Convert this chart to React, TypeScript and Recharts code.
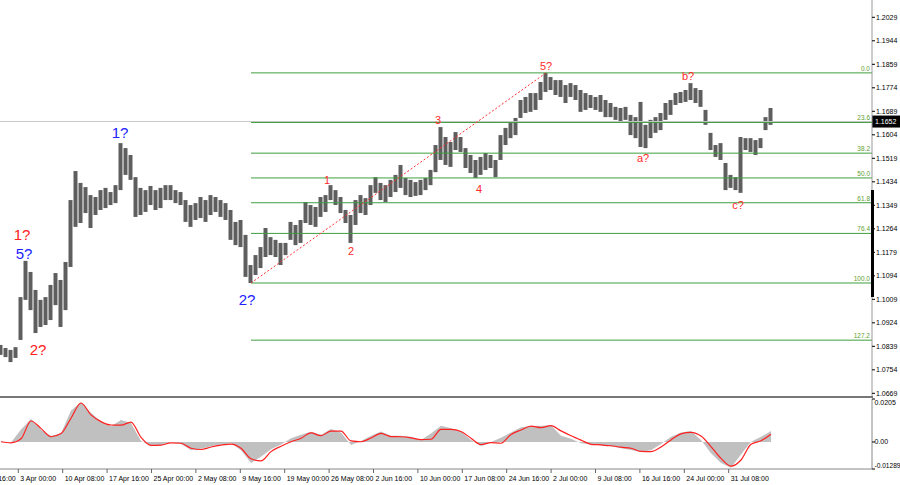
import { Area, Bar, ComposedChart, Line, ReferenceDot, ReferenceLine, XAxis, YAxis } from "recharts"

// EURUSD H4, one bar sampled every ~5 px of the original chart
const highs = [
  1.0844, 1.0833, 1.0826, 1.0836, 1.1017, 1.1148, 1.1108, 1.1043, 1.1007, 1.1017,
  1.1061, 1.1104, 1.1079, 1.1144, 1.1368, 1.1473, 1.143, 1.1415, 1.1386, 1.1379,
  1.1404, 1.1412, 1.1397, 1.1422, 1.1574, 1.1556, 1.1531, 1.1451, 1.1412, 1.1404,
  1.1419, 1.1404, 1.1412, 1.1422, 1.1422, 1.1404, 1.1397, 1.1368, 1.135, 1.1357,
  1.1379, 1.1368, 1.1386, 1.1379, 1.1368, 1.1357, 1.1332, 1.1289, 1.1296, 1.1242,
  1.1133, 1.1169, 1.1198, 1.1267, 1.1234, 1.1224, 1.1213, 1.1213, 1.1289, 1.1278,
  1.1296, 1.1361, 1.135, 1.1343, 1.1379, 1.1386, 1.1422, 1.1404, 1.1379, 1.1332,
  1.1314, 1.1368, 1.1386, 1.1375, 1.1422, 1.1451, 1.143, 1.1422, 1.1441, 1.1459,
  1.1495, 1.1448, 1.1441, 1.1433, 1.1441, 1.1448, 1.1477, 1.1567, 1.1632, 1.1596,
  1.1578, 1.1614, 1.1596, 1.1556, 1.1531, 1.1513, 1.1524, 1.1538, 1.1531, 1.1513,
  1.1603, 1.1629, 1.1647, 1.1665, 1.173, 1.1741, 1.1755, 1.1755, 1.1795, 1.1828,
  1.1813, 1.1802, 1.1802, 1.1784, 1.1791, 1.1784, 1.1766, 1.1755, 1.1748, 1.1741,
  1.1748, 1.173, 1.1719, 1.1705, 1.1701, 1.1705, 1.1676, 1.1668, 1.1723, 1.164,
  1.1658, 1.1668, 1.1683, 1.1719, 1.173, 1.1755, 1.1759, 1.1766, 1.1791, 1.1773,
  1.1766, 1.1694, 1.1611, 1.1567, 1.1574, 1.1502, 1.1459, 1.1451, 1.1596, 1.1592,
  1.1592, 1.1585, 1.1592, 1.1668, 1.1701,
]

const lows = [
  1.0808, 1.08, 1.0782, 1.0797, 1.0862, 1.1007, 1.097, 1.0887, 1.0909, 1.0916,
  1.0934, 1.0988, 1.0909, 1.097, 1.1126, 1.1271, 1.1285, 1.1321, 1.1267, 1.1314,
  1.1332, 1.1339, 1.135, 1.1357, 1.1404, 1.1459, 1.1441, 1.1307, 1.1314, 1.1325,
  1.135, 1.1332, 1.1339, 1.1368, 1.1368, 1.1357, 1.135, 1.1289, 1.1271, 1.1296,
  1.1303, 1.1289, 1.1314, 1.1325, 1.1307, 1.1296, 1.1224, 1.1205, 1.1198, 1.109,
  1.1068, 1.1097, 1.1122, 1.1162, 1.1169, 1.1162, 1.1133, 1.1169, 1.1224, 1.1205,
  1.1213, 1.1285, 1.1278, 1.1271, 1.1307, 1.1325, 1.1368, 1.135, 1.1321, 1.1285,
  1.1213, 1.1278, 1.1321, 1.1314, 1.135, 1.1394, 1.1368, 1.1361, 1.1379, 1.1397,
  1.1412, 1.1386, 1.1379, 1.1383, 1.1386, 1.1404, 1.1422, 1.1469, 1.1513, 1.1495,
  1.1488, 1.1549, 1.1542, 1.1484, 1.1466, 1.1448, 1.1459, 1.1477, 1.1484, 1.1451,
  1.1513, 1.1567, 1.1592, 1.1603, 1.1665, 1.1683, 1.1687, 1.1694, 1.173, 1.1759,
  1.1766, 1.1748, 1.1741, 1.1719, 1.1741, 1.173, 1.1687, 1.1694, 1.1701, 1.1694,
  1.1687, 1.1668, 1.1668, 1.1658, 1.165, 1.1658, 1.1603, 1.1592, 1.156, 1.1556,
  1.1592, 1.1611, 1.1621, 1.1658, 1.1676, 1.1712, 1.1719, 1.1723, 1.173, 1.1719,
  1.1705, 1.164, 1.1549, 1.1524, 1.1513, 1.1404, 1.1412, 1.1404, 1.1394, 1.1549,
  1.1542, 1.1531, 1.1556, 1.1621, 1.164,
]

// oscillator, one value every second bar
const oscSignal = [
  0.0001, -0.0004, 0.0015, 0.01, 0.0065, 0.0025, 0.004, 0.0113, 0.0186, 0.0129,
  0.0097, 0.0081, 0.008, 0.0095, 0.0022, -0.0016, -0.0015, -0.0004, -0.0006, -0.003,
  -0.0036, -0.0024, -0.0015, -0.001, -0.003, -0.008, -0.009, -0.0046, -0.002, 0.0001,
  0.0018, 0.0043, 0.003, 0.0052, 0.0052, 0.0005, 0.0001, 0.0019, 0.0041, 0.0026,
  0.0025, 0.002, 0.0011, 0.0013, 0.006, 0.006, 0.005, 0.0018, -0.0012, -0.0003,
  -0.0006, 0.0036, 0.0057, 0.0076, 0.0068, 0.0078, 0.0053, 0.003, 0.0009, -0.0011,
  -0.0014, -0.0018, -0.0025, -0.003, -0.0045, -0.0046, -0.0024, 0.001, 0.0039, 0.0046,
  0.0028, -0.0022, -0.0078, -0.0115, -0.0086, -0.0011, 0.0006, 0.0037,
]

const oscHist = [
  0.0002, -0.0003, 0.006, 0.011, 0.006, 0.0028, 0.0042, 0.015, 0.019, 0.014,
  0.0098, 0.0075, 0.0105, 0.009, 0.0005, -0.0018, -0.0014, 0.0, -0.001, -0.0038,
  -0.0032, -0.002, -0.0012, -0.0006, -0.004, -0.01, -0.007, -0.0035, -0.0012, 0.0018,
  0.0035, 0.0049, 0.0035, 0.0062, 0.0045, -0.0015, 0.0005, 0.003, 0.005, 0.003,
  0.003, 0.0025, 0.001, 0.004, 0.0078, 0.0065, 0.005, 0.001, -0.002, 0.0,
  0.002, 0.0045, 0.007, 0.0076, 0.0078, 0.008, 0.003, 0.0015, -0.0006, -0.0012,
  -0.0016, -0.002, -0.003, -0.0038, -0.0048, -0.004, -0.001, 0.0025, 0.0045, 0.0052,
  0.001, -0.0054, -0.01, -0.0123, -0.006, 0.0001, 0.0025, 0.0052,
]

const priceTicks = [
  1.2029, 1.1944, 1.1859, 1.1774, 1.1689, 1.1604, 1.1519, 1.1434, 1.1349,
  1.1264, 1.1179, 1.1094, 1.1009, 1.0924, 1.0839, 1.0754, 1.0669,
]
const oscTicks = [0.0205, 0, -0.01289]
const oscTickText = ["0.0205", "0.00", "-0.01289"]

const dateLabels = [
  "24 Mar 16:00", "3 Apr 00:00", "10 Apr 08:00", "17 Apr 16:00", "25 Apr 00:00", "2 May 08:00",
  "9 May 16:00", "19 May 00:00", "26 May 08:00", "2 Jun 16:00", "10 Jun 00:00", "17 Jun 08:00",
  "24 Jun 16:00", "2 Jul 00:00", "9 Jul 08:00", "16 Jul 16:00", "24 Jul 00:00", "31 Jul 08:00",
]
// bar position of each date label
const dateTickBars = [
  -5.7, 3.46, 12.34, 21.22, 30.1, 38.98, 47.86, 56.74, 65.62, 74.5, 83.38, 92.26,
  101.14, 110.02, 118.9, 127.78, 136.66, 145.54,
]

const fibRatios = [0, 23.6, 38.2, 50, 61.8, 76.4, 100, 127.2]
const fibLowBar = 50
const fibHighBar = 109
const lastPrice = 1.1652

const waveText = ["1?", "5?", "2?", "1?", "2?", "1", "2", "3", "4", "5?", "a?", "b?", "c?"]
const waveBar = [4.2, 4.6, 7.4, 23.8, 49.2, 65.2, 70, 87.4, 95.6, 109, 128.4, 137.4, 147.4]
const wavePrice = [1.1245, 1.1173, 1.0826, 1.1614, 1.1007, 1.1441, 1.1184, 1.1658, 1.1408, 1.1853, 1.152, 1.1817, 1.135]
const waveDegree = [1, 2, 1, 2, 2, 0, 0, 0, 0, 0, 0, 0, 0]

const X_DOMAIN: [number, number] = [-0.2, 174.2]
const PRICE_DOMAIN: [number, number] = [1.06557, 1.20916]
const OSC_DOMAIN: [number, number] = [-0.01289, 0.0205]
const FONT = "'Liberation Sans', Arial, sans-serif"
const degreeStyle = [
  { fill: "#ff2a2a", size: 11 },
  { fill: "#ff2020", size: 15 },
  { fill: "#2222ff", size: 15 },
]

const bars = highs.map((h, k) => ({ i: k, range: [lows[k], h] }))
const osc = oscSignal.map((s, k) => ({ i: k * 2, signal: s, hist: oscHist[k] }))
const fibHigh = highs[fibHighBar]
const fibLow = lows[fibLowBar]

const FibLabel = ({ viewBox, text }: any) => (
  <text
    x={viewBox.x + viewBox.width - 2}
    y={viewBox.y - 2}
    textAnchor="end"
    fontSize={6.5}
    fontFamily={FONT}
    fill="#5e9e30"
  >
    {text}
  </text>
)

const PriceTag = ({ viewBox }: any) => {
  const x = viewBox.x + viewBox.width
  return (
    <g>
      <rect x={x} y={viewBox.y - 6} width={28} height={12} fill="#000" />
      <text x={x + 3} y={viewBox.y + 2.5} fontSize={7} fontFamily={FONT} fill="#fff">
        {lastPrice.toFixed(4)}
      </text>
    </g>
  )
}

const WaveLabel = ({ viewBox, text, degree }: any) => {
  const st = degreeStyle[degree]
  return (
    <text
      x={viewBox.x + viewBox.width / 2}
      y={viewBox.y + viewBox.height / 2}
      textAnchor="middle"
      dominantBaseline="central"
      fontSize={st.size}
      fontFamily={FONT}
      fill={st.fill}
    >
      {text}
    </text>
  )
}

const DateTick = ({ x, y, payload }: any) => {
  const k = dateTickBars.indexOf(payload.value)
  return (
    <text x={x + 2} y={y + 6} fontSize={7} fontFamily={FONT} fill="#000">
      {dateLabels[k]}
    </text>
  )
}

const OscTick = ({ x, y, payload }: any) => {
  const k = oscTicks.indexOf(payload.value)
  const dy = k === 0 ? 6 : k === 2 ? -1 : 2.5
  return (
    <text x={x - 2.5} y={y + dy} fontSize={k === 2 ? 6.6 : 7} fontFamily={FONT} fill="#000">
      {oscTickText[k]}
    </text>
  )
}

export default function App() {
  return (
    <div style={{ position: "absolute", left: 0, top: 0, width: 900, height: 485, background: "#fff", fontFamily: FONT }}>
      <div style={{ position: "absolute", left: 0, top: 0 }}>
        <ComposedChart width={900} height={397} data={bars} margin={{ top: 0, right: 0, left: 0, bottom: 0 }}>
          <XAxis type="number" dataKey="i" domain={X_DOMAIN} hide allowDataOverflow />
          <YAxis
            orientation="right"
            type="number"
            domain={PRICE_DOMAIN}
            ticks={priceTicks}
            interval={0}
            width={28}
            allowDataOverflow
            axisLine={{ stroke: "#9a9a9a" }}
            tickLine={{ stroke: "#000" }}
            tickSize={3}
            tick={{ fontSize: 7, fill: "#000", fontFamily: FONT, dx: -1 }}
            tickFormatter={(v: number) => v.toFixed(4)}
          />
          <ReferenceLine y={lastPrice} stroke="#c8c8c8" label={(p: any) => <PriceTag {...p} />} />
          {fibRatios.map((r) => {
            const price = fibHigh - (r / 100) * (fibHigh - fibLow)
            return (
              <ReferenceLine
                key={r}
                segment={[
                  { x: fibLowBar, y: price },
                  { x: X_DOMAIN[1], y: price },
                ]}
                stroke="#3f9f3f"
                strokeWidth={1}
                label={(p: any) => <FibLabel {...p} text={r.toFixed(1)} />}
              />
            )
          })}
          <ReferenceLine
            segment={[
              { x: fibLowBar, y: fibLow },
              { x: fibHighBar, y: fibHigh },
            ]}
            stroke="#ff3030"
            strokeDasharray="2 2"
          />
          <Bar dataKey="range" fill="#5e5e5e" barSize={4} isAnimationActive={false} />
          {waveText.map((t, k) => (
            <ReferenceDot
              key={k}
              x={waveBar[k]}
              y={wavePrice[k]}
              r={1}
              fill="none"
              stroke="none"
              label={(p: any) => <WaveLabel {...p} text={t} degree={waveDegree[k]} />}
            />
          ))}
        </ComposedChart>
      </div>
      <div style={{ position: "absolute", left: 0, top: 396, width: 873, height: 2, background: "#777" }} />
      <div style={{ position: "absolute", left: 871, top: 190, width: 3, height: 107, background: "#000" }} />
      <div style={{ position: "absolute", left: 0, top: 397 }}>
        <ComposedChart width={900} height={88} data={osc} margin={{ top: 2, right: 0, left: 0, bottom: 2 }}>
          <XAxis
            type="number"
            dataKey="i"
            domain={X_DOMAIN}
            allowDataOverflow
            ticks={dateTickBars}
            interval={0}
            height={14}
            axisLine={{ stroke: "#888" }}
            tickLine={{ stroke: "#666" }}
            tickSize={4}
            tick={<DateTick />}
          />
          <YAxis
            orientation="right"
            type="number"
            domain={OSC_DOMAIN}
            ticks={oscTicks}
            interval={0}
            width={28}
            allowDataOverflow
            axisLine={{ stroke: "#888" }}
            tickLine={{ stroke: "#000" }}
            tickSize={3}
            tick={<OscTick />}
          />
          <Area
            type="linear"
            dataKey="hist"
            baseValue={0}
            fill="#c0c0c0"
            fillOpacity={1}
            stroke="none"
            isAnimationActive={false}
          />
          <Line
            type="monotone"
            dataKey="signal"
            stroke="#ff2020"
            strokeWidth={1.2}
            dot={false}
            isAnimationActive={false}
          />
        </ComposedChart>
      </div>
    </div>
  )
}
